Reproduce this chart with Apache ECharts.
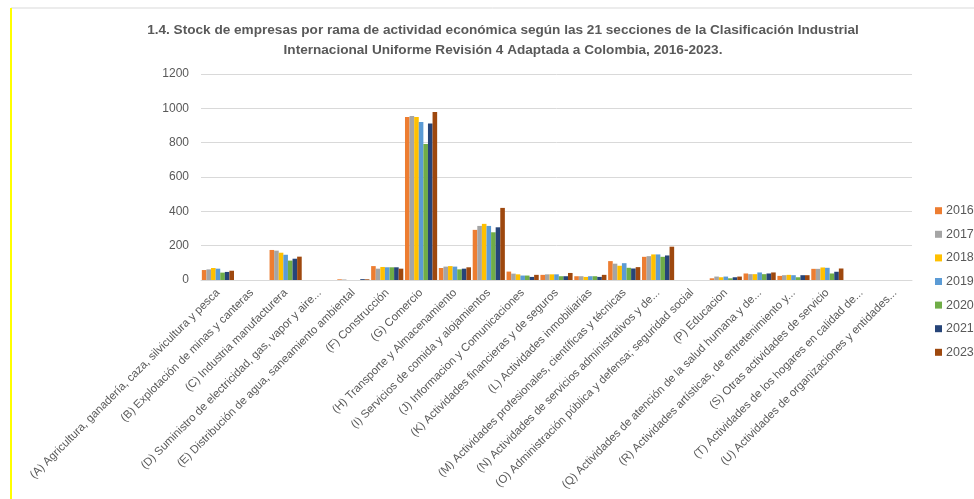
<!DOCTYPE html>
<html><head><meta charset="utf-8">
<script src="https://cdn.jsdelivr.net/npm/echarts@6/dist/echarts.min.js"></script>
<style>html,body{margin:0;padding:0;background:#fff}#c{width:974px;height:499px}</style>
</head><body><div id="c"></div>
<script>
const categories = [
 "(A) Agricultura, ganadería, caza, silvicultura y pesca",
 "(B) Explotación de minas y canteras",
 "(C) Industria manufacturera",
 "(D) Suministro de electricidad, gas, vapor y aire...",
 "(E) Distribución de agua, saneamiento ambiental",
 "(F) Construcción",
 "(G) Comercio",
 "(H) Transporte y Almacenamiento",
 "(I) Servicios de comida y alojamientos",
 "(J) Informacion y Comunicaciones",
 "(K) Actividades financieras y de seguros",
 "(L) Actividades inmobiliarias",
 "(M) Actividades profesionales, científicas y técnicas",
 "(N) Actividades de servicios administrativos y de...",
 "(O) Administración pública y defensa; seguridad social",
 "(P) Educacion",
 "(Q) Actividades de atención de la salud humana y de...",
 "(R) Actividades artísticas, de entretenimiento y...",
 "(S) Otras actividades de servicio",
 "(T) Actividades de los hogares en calidad de...",
 "(U) Actividades de organizaciones y entidades..."
];
const years = ["2016","2017","2018","2019","2020","2021","2023"];
//               A   B   C   D  E   F   G    H   I    J   K   L   M    N    O  P   Q   R   S   T  U
const v2016 = [ 58, 0, 175, 0, 4, 81, 949, 70, 292, 49, 30, 22, 110, 135, 0, 10, 38, 24, 65, 0, 0];
const v2017 = [ 62, 0, 171, 0, 3, 66, 956, 78, 315, 37, 33, 22,  95, 139, 0, 20, 34, 28, 65, 0, 0];
const v2018 = [ 70, 0, 159, 0, 0, 76, 949, 81, 327, 33, 33, 18,  83, 149, 0, 16, 34, 30, 73, 0, 0];
const v2019 = [ 66, 0, 147, 0, 0, 74, 920, 78, 315, 26, 33, 22,  98, 149, 0, 20, 44, 28, 71, 0, 0];
const v2020 = [ 43, 0, 113, 0, 0, 74, 792, 62, 278, 26, 22, 22,  71, 135, 0, 10, 34, 16, 38, 0, 0];
const v2021 = [ 47, 0, 124, 0, 5, 74, 912, 66, 307, 18, 22, 18,  67, 143, 0, 16, 38, 28, 48, 0, 0];
const v2023 = [ 54, 0, 136, 0, 4, 66, 978, 74, 420, 30, 41, 30,  75, 194, 0, 20, 44, 28, 67, 0, 0];
const seriesValues = [v2016, v2017, v2018, v2019, v2020, v2021, v2023];
const colors = ["#ED7D31","#A5A5A5","#FFC000","#5B9BD5","#70AD47","#264478","#9E480E"];
const yTicks = [0,200,400,600,800,1000,1200];

const chart = echarts.init(document.getElementById('c'), null, {renderer:'canvas'});
chart.setOption({
  animation:false,
  backgroundColor:'#fff',
  color: colors,
  title:{
    text:"1.4. Stock de empresas por rama de actividad económica según las 21 secciones de la Clasificación Industrial\nInternacional Uniforme Revisión 4 Adaptada a Colombia, 2016-2023.",
    left:498, top:15, textAlign:'center',
    textStyle:{fontFamily:'Liberation Sans', fontSize:13.6, fontWeight:'bold', color:'#595959', lineHeight:20}
  },
  legend:{
    orient:'vertical', left:935, top:203.7, padding:0, itemWidth:7, itemHeight:7, itemGap:9.6,
    icon:'rect',
    textStyle:{fontFamily:'Liberation Sans', fontSize:12.5, color:'#595959', lineHeight:14, padding:[0,0,0,-1]},
    data: years
  },
  grid:{left:201, right:62, top:74, bottom:219, containLabel:false},
  xAxis:{
    type:'category', data:categories,
    axisLine:{lineStyle:{color:'#D9D9D9'}},
    axisTick:{show:false},
    axisLabel:{rotate:45, interval:0, margin:11, fontFamily:'Liberation Sans', fontSize:11.4, color:'#595959'}
  },
  yAxis:{
    type:'value', min:yTicks[0], max:yTicks[yTicks.length-1], interval:200,
    axisLine:{show:false}, axisTick:{show:false},
    splitLine:{lineStyle:{color:'#D9D9D9'}},
    axisLabel:{fontFamily:'Liberation Sans', fontSize:12, color:'#595959', margin:12, formatter:(v)=>String(v)}
  },
  graphic:[
    {type:'line', shape:{x1:11, y1:8, x2:974, y2:8}, style:{stroke:'#D9D9D9', lineWidth:1}},
    {type:'line', shape:{x1:11, y1:8, x2:11, y2:499}, style:{stroke:'#FFFF00', lineWidth:2}}
  ],
  series: years.map((y,i)=>({
    name:y, type:'bar', data:seriesValues[i],
    barGap:'0%', barCategoryGap:'5%',
    itemStyle:{color:colors[i]}
  }))
});
</script></body></html>
